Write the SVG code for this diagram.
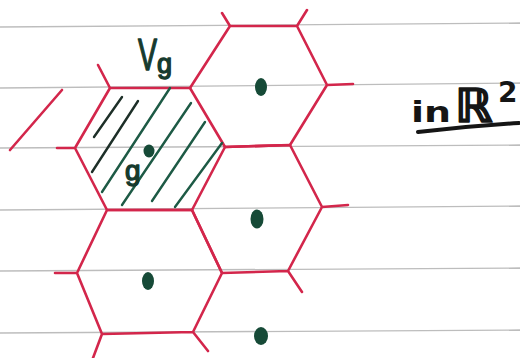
<svg xmlns="http://www.w3.org/2000/svg" width="520" height="358" viewBox="0 0 520 358">
<style>
.rule{stroke:#bdbdbd;stroke-width:1.3;fill:none}
.edge{stroke:#d3264b;stroke-width:2.6;fill:none;stroke-linecap:round;stroke-linejoin:round}
.hatch{stroke:#1d5a45;stroke-width:2.4;stroke-linecap:round}
.hatch.dark{stroke:#1d2f28}
.pt{fill:#164a37}
.lbl{font-family:"Liberation Sans",Arial,sans-serif;fill:#163a2e;stroke:#163a2e;stroke-width:1.4;stroke-linejoin:round}
.blk{font-family:"DejaVu Sans","Liberation Sans",sans-serif;font-weight:bold;fill:#151515}
</style>
<rect width="520" height="358" fill="#ffffff"/>
<g id="paper">
<line class="rule" x1="0" y1="27" x2="520" y2="23"/>
<line class="rule" x1="0" y1="88" x2="520" y2="83"/>
<line class="rule" x1="0" y1="148" x2="520" y2="145"/>
<line class="rule" x1="0" y1="210" x2="520" y2="206"/>
<line class="rule" x1="0" y1="271" x2="520" y2="268"/>
<line class="rule" x1="0" y1="333" x2="520" y2="330"/>
</g>
<g id="cell-g">
<path class="edge" d="M110,88 L190,88 L225,147 L192,210 L107,210 L75,148 Z M110,88 L98,65 M75,148 L57,148"/>
<line class="hatch dark" x1="94" y1="137" x2="122" y2="97"/>
<line class="hatch dark" x1="92" y1="172" x2="138" y2="101"/>
<line class="hatch" x1="102" y1="192" x2="170" y2="88"/>
<line class="hatch" x1="122" y1="205" x2="191" y2="103"/>
<line class="hatch" x1="152" y1="201" x2="205" y2="122"/>
<line class="hatch" x1="175" y1="207" x2="222" y2="143"/>
<ellipse class="pt" cx="149" cy="151" rx="5.5" ry="6.5"/>
<text class="lbl" x="125" y="180" font-size="28">g</text>
</g>
<g id="cell-2">
<path class="edge" d="M190,88 L230,26 L297,26 L327,85 L290,145 L225,147 M230,26 L222,13 M297,26 L307,10 M327,85 L353,84"/>
<ellipse class="pt" cx="261" cy="87" rx="6" ry="9"/>
</g>
<g id="cell-3">
<path class="edge" d="M225,147 L290,145 L322,207 L288,271 L222,273 L192,210 M322,207 L348,205 M288,271 L302,292"/>
<ellipse class="pt" cx="257" cy="219" rx="6.5" ry="9.5"/>
</g>
<g id="cell-4">
<path class="edge" d="M107,210 L192,210 L222,273 L193,332 L102,334 L77,273 Z M77,273 L55,273 M193,332 L208,351 M102,334 L93,358"/>
<ellipse class="pt" cx="148" cy="281" rx="6" ry="9"/>
</g>
<g id="cell-5">
<ellipse class="pt" cx="261" cy="336" rx="7" ry="9"/>
</g>
<g id="cell-left">
<line class="edge" x1="10" y1="150" x2="62" y2="90"/>
</g>
<g id="label-Vg">
<text class="lbl" transform="translate(138,70) scale(0.65,1)" font-size="44" stroke-width="2.6">V</text>
<text class="lbl" x="157" y="73" font-size="27">g</text>
</g>
<g id="label-space">
<text class="blk" x="411" y="122" font-size="28" textLength="40" lengthAdjust="spacingAndGlyphs">in</text>
<text class="blk" x="455" y="122" font-size="47" stroke="#151515" stroke-width="1.6" stroke-linejoin="round">ℝ</text>
<text class="blk" x="498" y="102" font-size="28">2</text>
<path d="M418,132 Q470,126 519,123" stroke="#151515" stroke-width="4" fill="none" stroke-linecap="round"/>
</g>
</svg>
